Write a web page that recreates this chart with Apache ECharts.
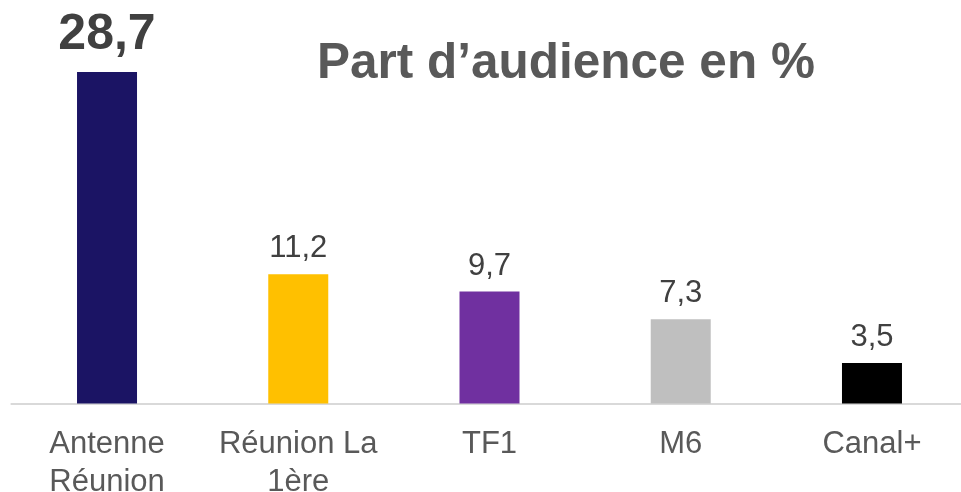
<!DOCTYPE html>
<html>
<head>
<meta charset="utf-8">
<script src="https://cdn.jsdelivr.net/npm/echarts@6/dist/echarts.min.js"></script>
<style>
  html, body { margin: 0; padding: 0; background: #fff; }
  #chart { width: 961px; height: 492px; }
</style>
</head>
<body>
<div id="chart"></div>
<script>
// données
var chaines = ["Antenne\nRéunion", "Réunion La\n1ère", "TF1", "M6", "Canal+"];
var parts = [28.7, 11.2, 9.7, 7.3, 3.5];
var couleurs = ["#1b1464", "#ffc000", "#7030a0", "#bfbfbf", "#000000"];

var font = "'Liberation Sans', Arial, sans-serif";

var myChart = echarts.init(document.getElementById("chart"));

myChart.setOption({
  animation: false,
  title: {
    text: "Part d\u2019audience en %",
    left: 312,
    top: 34,
    textStyle: {
      fontFamily: font,
      fontSize: 49.5,
      fontWeight: "bold",
      color: "#595959"
    }
  },
  grid: {
    left: 11.4,
    right: -6.6,
    top: 72,
    bottom: 88.5,
    containLabel: false,
    outerBoundsMode: "none"
  },
  xAxis: {
    type: "category",
    data: chaines,
    axisTick: { show: false },
    axisLine: {
      lineStyle: { color: "#d9d9d9", width: 2 }
    },
    axisLabel: {
      interval: 0,
      margin: 22,
      fontFamily: font,
      fontSize: 31,
      lineHeight: 38,
      color: "#595959"
    }
  },
  yAxis: {
    type: "value",
    min: 0,
    max: 28.7,
    show: false,
    splitLine: { show: false }
  },
  series: [
    {
      type: "bar",
      barWidth: 60,
      data: parts.map(function (v, i) {
        var lab = {
          show: true,
          position: "top",
          distance: 10,
          fontFamily: font,
          fontSize: 31,
          color: "#404040",
          formatter: function (p) { return String(p.value).replace(".", ","); }
        };
        if (i === 0) {
          lab.fontSize = 50;
          lab.fontWeight = "bold";
          lab.distance = 12;
        }
        return {
          value: v,
          itemStyle: { color: couleurs[i] },
          label: lab
        };
      })
    }
  ]
});
</script>
</body>
</html>
